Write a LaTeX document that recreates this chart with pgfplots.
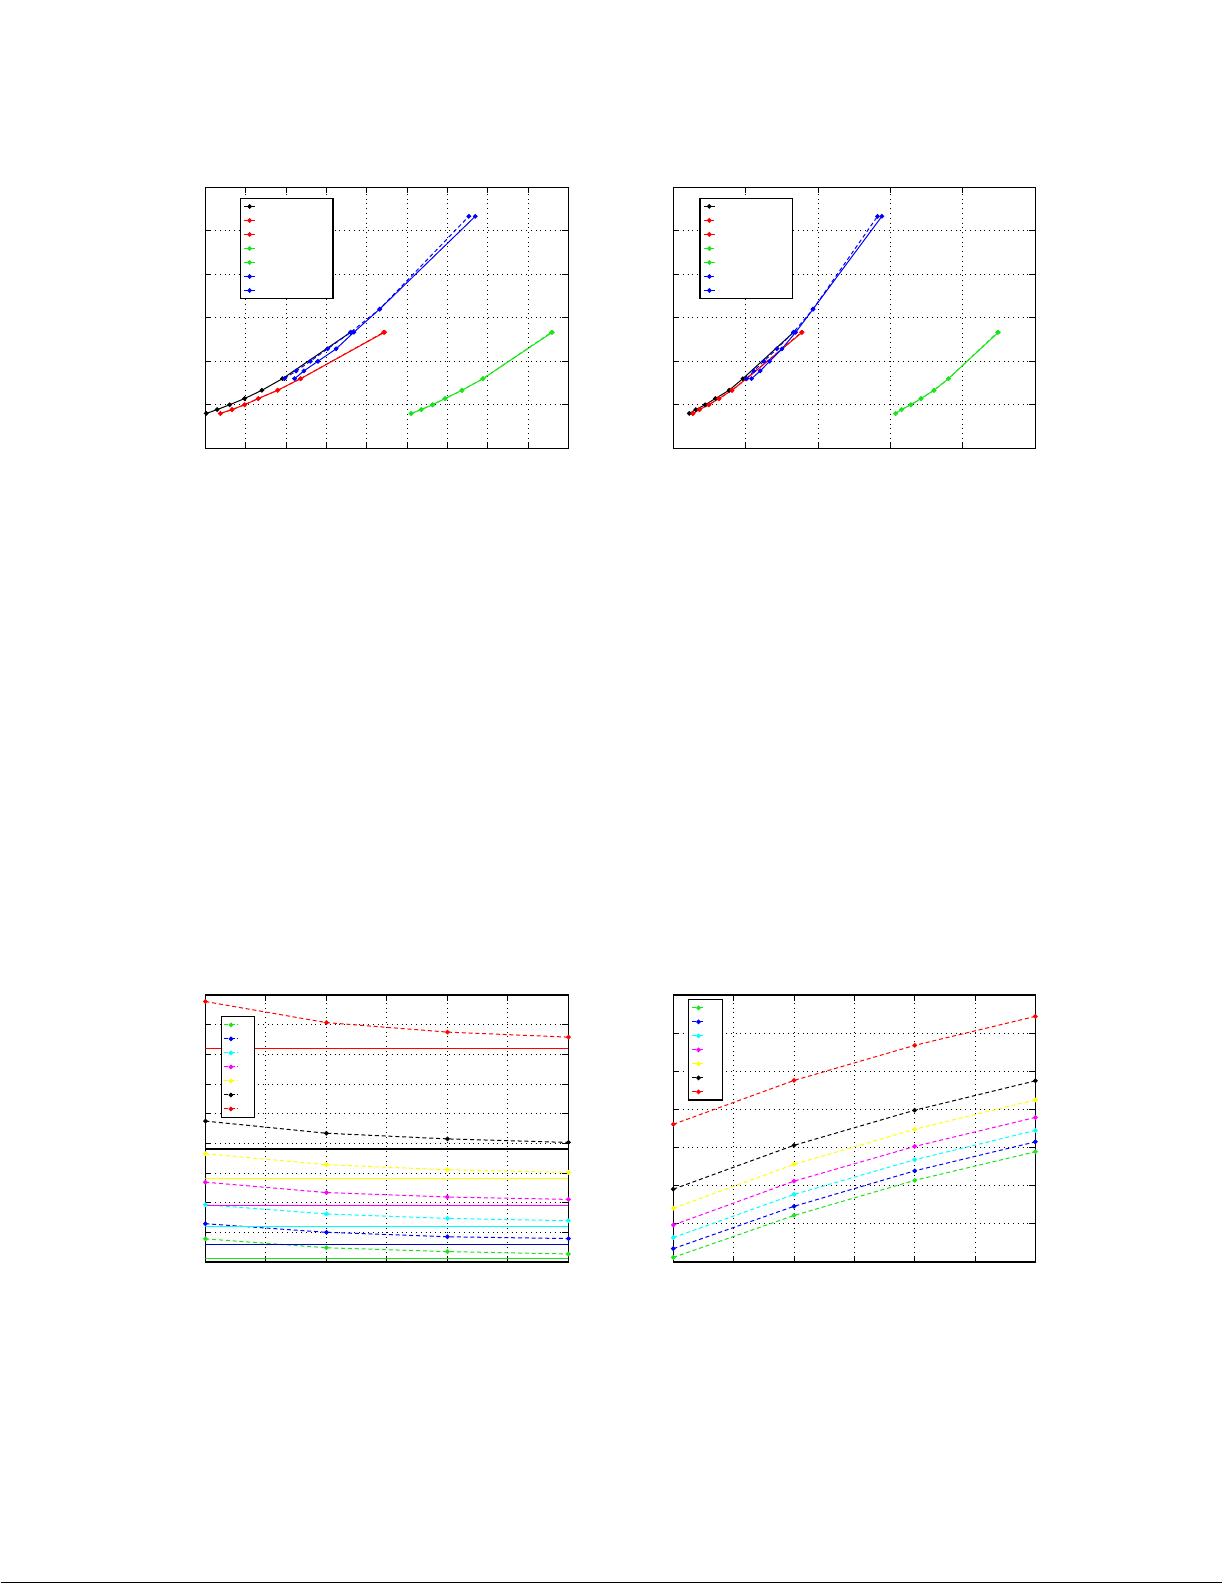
\documentclass[border=0pt]{standalone}
\usepackage{pgfplots}
\pgfplotsset{compat=1.18}

\definecolor{mred}{rgb}{1,0,0}
\definecolor{mgreen}{rgb}{0.1,0.9,0.1}
\definecolor{mblue}{rgb}{0,0,1}
\definecolor{mcyan}{rgb}{0,1,1}
\definecolor{mmag}{rgb}{1,0,1}
\definecolor{myel}{rgb}{1,1,0}

\newcommand\gap[1]{\hspace*{#1}}

\pgfplotsset{
  mat/.style={
    scale only axis, anchor=south west,
    xticklabels={}, yticklabels={},
    grid=major, major grid style={black, dotted, line width=0.5bp},
    axis line style={line width=0.6bp},
    every tick/.style={black, line width=0.5bp}, major tick length=3bp,
    tick align=inside,
    every axis plot/.append style={line width=0.5bp, mark size=0.9bp, mark options={solid}},
    legend cell align=left,
    legend style={draw=black, line width=0.6bp, fill=white, inner xsep=1.5bp, inner ysep=0.6bp,
      row sep=0pt, nodes={inner sep=0pt, minimum height=7bp}},
  },
  img/.style={legend image code/.code={%
    \draw[mark repeat=2,mark phase=2] plot coordinates {(0bp,0bp) (#1/2,0bp) (#1,0bp)};}},
  dsh/.style={dash pattern=on 2bp off 1.4bp},
}

\begin{document}
\begin{tikzpicture}
\path (0,0) rectangle (612bp,792bp);
\draw[line width=0.5bp] (0bp,1bp) -- (610.5bp,1bp);

% top left
\begin{axis}[mat, at={(102.4bp,568bp)}, width=181.4bp, height=130.4bp,
  xmin=0, xmax=9, ymin=0, ymax=6, xtick={0,...,9}, ytick={0,...,6}, img=5.8bp,
  legend style={at={(0.0945,0.9605)}, anchor=north west}]
\addplot[black, mark=*] coordinates {(0.02,0.8) (0.29,0.889) (0.60,1) (0.97,1.143) (1.40,1.333) (1.91,1.6) (3.60,2.667)};
\addplot[mred, dsh, mark=*] coordinates {(0.37,0.8) (0.66,0.889) (0.97,1) (1.31,1.143) (1.79,1.333) (2.36,1.6) (4.42,2.667)};
\addplot[mred, mark=*] coordinates {(0.37,0.8) (0.66,0.889) (0.97,1) (1.31,1.143) (1.79,1.333) (2.36,1.6) (4.44,2.667)};
\addplot[mgreen, dsh, mark=*] coordinates {(5.10,0.8) (5.35,0.889) (5.63,1) (5.94,1.143) (6.36,1.333) (6.88,1.6) (8.58,2.667)};
\addplot[mgreen, mark=*] coordinates {(5.10,0.8) (5.35,0.889) (5.63,1) (5.94,1.143) (6.36,1.333) (6.88,1.6) (8.60,2.667)};
\addplot[mblue, dsh, mark=*] coordinates {(1.96,1.6) (2.25,1.778) (2.60,2) (3.03,2.286) (3.60,2.667) (4.32,3.2) (6.53,5.333)};
\addplot[mblue, mark=*] coordinates {(2.21,1.6) (2.44,1.778) (2.79,2) (3.24,2.286) (3.68,2.667) (4.32,3.2) (6.69,5.333)};
\legend{\gap{37bp},\gap{37bp},\gap{37bp},\gap{37bp},\gap{37bp},\gap{37bp},\gap{37bp}}
\end{axis}

% top right
\begin{axis}[mat, at={(336.2bp,568bp)}, width=180.9bp, height=130.4bp,
  xmin=0, xmax=5, ymin=0, ymax=6, xtick={0,...,5}, ytick={0,...,6}, img=5.8bp,
  legend style={at={(0.072,0.9605)}, anchor=north west}]
\addplot[black, mark=*] coordinates {(0.22,0.8) (0.31,0.889) (0.44,1) (0.58,1.143) (0.77,1.333) (0.96,1.6) (1.66,2.667)};
\addplot[mred, dsh, mark=*] coordinates {(0.27,0.8) (0.36,0.889) (0.49,1) (0.63,1.143) (0.81,1.333) (1.01,1.6) (1.77,2.667)};
\addplot[mred, mark=*] coordinates {(0.27,0.8) (0.36,0.889) (0.49,1) (0.63,1.143) (0.81,1.333) (1.01,1.6) (1.78,2.667)};
\addplot[mgreen, dsh, mark=*] coordinates {(3.07,0.8) (3.15,0.889) (3.28,1) (3.42,1.143) (3.60,1.333) (3.80,1.6) (4.48,2.667)};
\addplot[mgreen, mark=*] coordinates {(3.07,0.8) (3.15,0.889) (3.28,1) (3.42,1.143) (3.60,1.333) (3.80,1.6) (4.49,2.667)};
\addplot[mblue, dsh, mark=*] coordinates {(1.01,1.6) (1.11,1.778) (1.25,2) (1.43,2.286) (1.66,2.667) (1.93,3.2) (2.82,5.333)};
\addplot[mblue, mark=*] coordinates {(1.08,1.6) (1.20,1.778) (1.33,2) (1.50,2.286) (1.69,2.667) (1.93,3.2) (2.88,5.333)};
\legend{\gap{37bp},\gap{37bp},\gap{37bp},\gap{37bp},\gap{37bp},\gap{37bp},\gap{37bp}}
\end{axis}

% bottom left
\begin{axis}[mat, at={(102.4bp,161.4bp)}, width=181.4bp, height=133.4bp,
  xmin=0, xmax=6, ymin=0, ymax=9, xtick={0,...,6}, ytick={0,...,9}, img=7.2bp,
  legend style={at={(0.043,0.921)}, anchor=north west, inner xsep=0.8bp}]
\addplot[mgreen, dsh, mark=*] coordinates {(0,0.78) (2,0.48) (4,0.35) (6,0.27)};
\addplot[mblue, dsh, mark=*] coordinates {(0,1.29) (2,1.00) (4,0.85) (6,0.79)};
\addplot[mcyan, dsh, mark=*] coordinates {(0,1.93) (2,1.62) (4,1.47) (6,1.39)};
\addplot[mmag, dsh, mark=*] coordinates {(0,2.69) (2,2.34) (4,2.19) (6,2.11)};
\addplot[myel, dsh, mark=*] coordinates {(0,3.65) (2,3.28) (4,3.11) (6,3.02)};
\addplot[black, dsh, mark=*] coordinates {(0,4.75) (2,4.34) (4,4.15) (6,4.03)};
\addplot[mred, dsh, mark=*] coordinates {(0,8.78) (2,8.07) (4,7.75) (6,7.58)};
\addplot[mred, forget plot] coordinates {(0,7.20) (6,7.20)};
\addplot[black, line width=0.8bp, forget plot] coordinates {(0,3.80) (6,3.80)};
\addplot[myel, forget plot] coordinates {(0,2.81) (6,2.81)};
\addplot[mmag, forget plot] coordinates {(0,1.91) (6,1.91)};
\addplot[mcyan, forget plot] coordinates {(0,1.19) (6,1.19)};
\addplot[mblue!75!black, forget plot] coordinates {(0,0.60) (6,0.60)};
\addplot[mgreen, forget plot] coordinates {(0,0.11) (6,0.11)};
\legend{\gap{7bp},\gap{7bp},\gap{7bp},\gap{7bp},\gap{7bp},\gap{7bp},\gap{7bp}}
\end{axis}

% bottom right
\begin{axis}[mat, at={(336.2bp,161.4bp)}, width=180.9bp, height=133.4bp,
  xmin=0, xmax=6, ymin=0, ymax=7, xtick={0,...,6}, ytick={0,...,7}, img=6.2bp,
  legend style={at={(0.041,0.985)}, anchor=north west}]
\addplot[mgreen, dsh, mark=*] coordinates {(0,0.12) (2,1.22) (4,2.14) (6,2.89)};
\addplot[mblue, dsh, mark=*] coordinates {(0,0.35) (2,1.46) (4,2.39) (6,3.15)};
\addplot[mcyan, dsh, mark=*] coordinates {(0,0.64) (2,1.77) (4,2.68) (6,3.45)};
\addplot[mmag, dsh, mark=*] coordinates {(0,0.97) (2,2.12) (4,3.03) (6,3.79)};
\addplot[myel, dsh, mark=*] coordinates {(0,1.41) (2,2.56) (4,3.48) (6,4.25)};
\addplot[black, dsh, mark=*] coordinates {(0,1.91) (2,3.06) (4,3.98) (6,4.75)};
\addplot[mred, dsh, mark=*] coordinates {(0,3.61) (2,4.76) (4,5.68) (6,6.44)};
\legend{\gap{7bp},\gap{7bp},\gap{7bp},\gap{7bp},\gap{7bp},\gap{7bp},\gap{7bp}}
\end{axis}
\end{tikzpicture}
\end{document}
